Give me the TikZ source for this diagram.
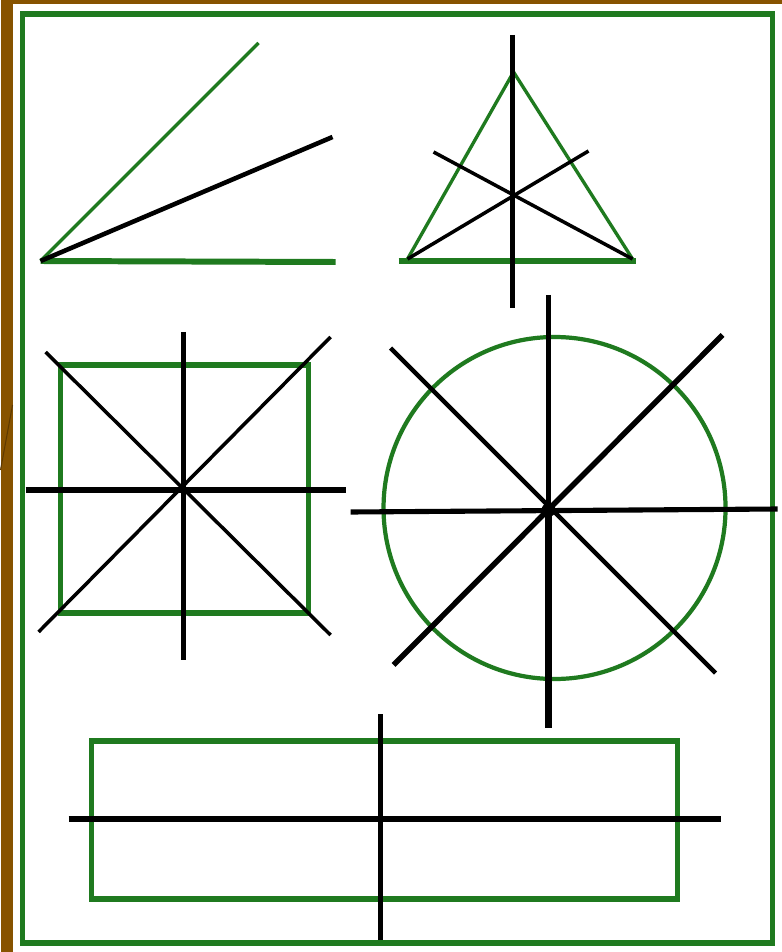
\documentclass[tikz,border=0pt]{standalone}
\usetikzlibrary{calc}
\definecolor{Gc}{HTML}{1F7A1F}
\definecolor{Bc}{HTML}{875300}
\tikzset{
  gfig/.style={draw=Gc, line width=1.45pt},
  gthin/.style={draw=Gc, line width=0.95pt},
  bthick/.style={draw=black, line width=1.45pt},
  bthin/.style={draw=black, line width=1pt},
  bheavy/.style={draw=black, line width=2.2pt},
}
\begin{document}
\begin{tikzpicture}[x=0.01cm, y=-0.01cm]
  % slide background and frame
  \fill[Bc] (0,0) rectangle (781,952);
  \fill[white] (12,4) rectangle (781,952);
  \draw[Bc!70!black, line width=0.3pt] (12,405) -- (0,470);
  \draw[gfig, line width=1.6pt] (22,14) rectangle (772,943);

  % angle with bisector
  \coordinate (ang) at (40,261);
  \draw[gfig, line width=1.7pt] (ang) -- (335,262);
  \draw[gthin] (ang) -- (258,43);
  \draw[bthick, line width=1.3pt] (ang) -- (332,137);

  % triangle with axes
  \coordinate (tA) at (513,72);
  \coordinate (tB) at (407,259);
  \coordinate (tC) at (632,259);
  \draw[gthin] (tB) -- (tA) -- (tC);
  \draw[gfig] (398,261) -- (635,261);
  \draw[bthick] (512,35) -- (512,308);
  \draw[bthin] (tB) -- (588,151);
  \draw[bthin] (tC) -- (433,152);

  % square with axes
  \coordinate (sq) at (183,490);
  \draw[gfig] (60,365) rectangle (308,613);
  \draw[bthick] (183,332) -- (183,660);
  \draw[bthick] (25,490) -- (345,490);
  \draw[bthin] (45,352) -- (330,635);
  \draw[bthin] (330,337) -- (38,632);
  \fill (sq) circle (4);

  % circle with axes
  \coordinate (ci) at (548,510);
  \draw[gfig, line width=1.2pt] (554,508) circle (171);
  \draw[bthick] (548,295) -- (ci);
  \draw[bheavy] (ci) -- (548,728);
  \draw[bthick] (350,512) -- (777,509);
  \draw[bthick, line width=1.25pt] (390,348) -- (715,673);
  \draw[bthick, line width=1.55pt] (393,665) -- (722,335);
  \fill (ci) circle (7);

  % rectangle with axes
  \draw[gfig] (91,741) rectangle (677,899);
  \draw[bthick] (68,819) -- (720,819);
  \draw[bthick] (380,714) -- (380,940);
\end{tikzpicture}
\end{document}
